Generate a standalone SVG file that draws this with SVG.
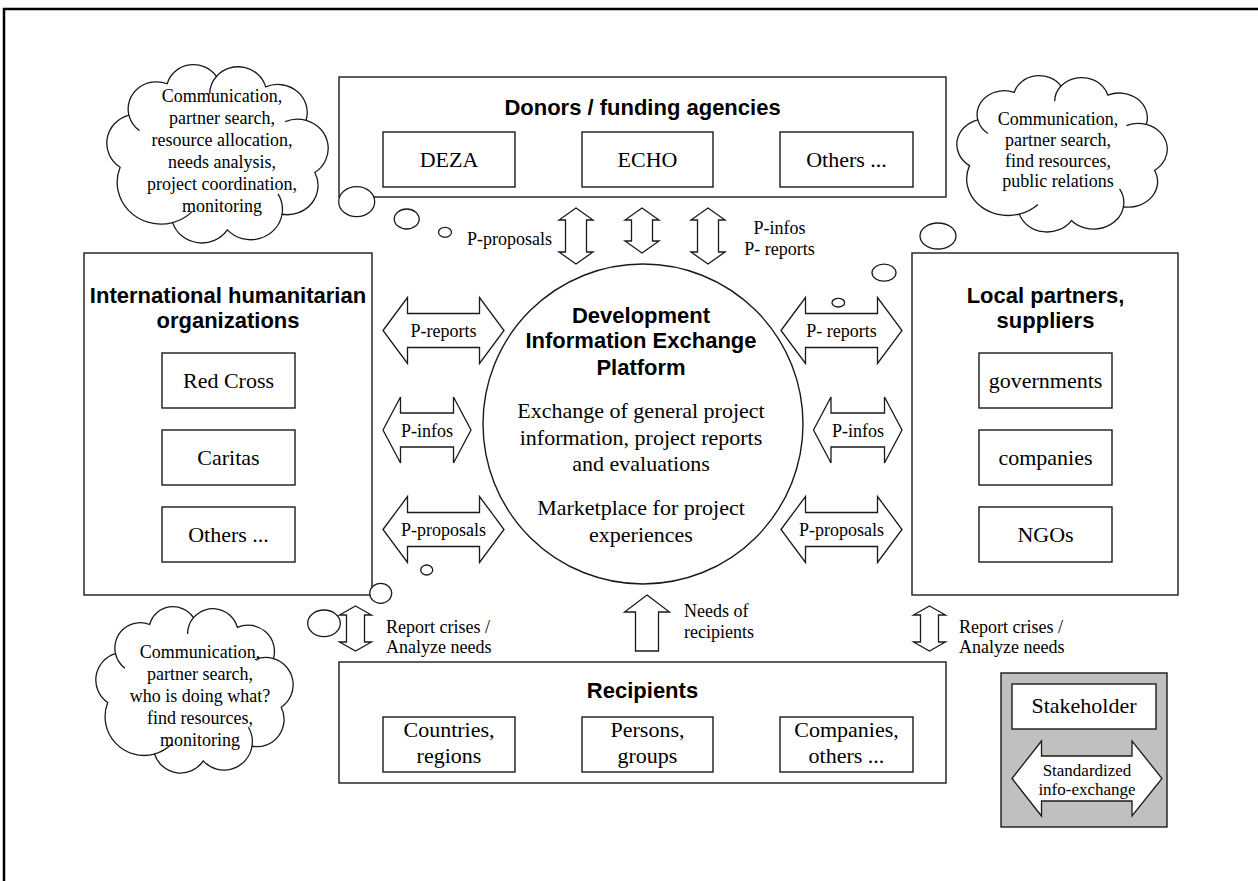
<svg xmlns="http://www.w3.org/2000/svg" xmlns:xlink="http://www.w3.org/1999/xlink" width="1258" height="881" viewBox="0 0 1258 881">
<style>
.box{fill:#fff;stroke:#1a1a1a;stroke-width:1.4}
.arrow{fill:#fff;stroke:#1a1a1a;stroke-width:1.3;stroke-linejoin:miter}
.bub{fill:#fff;stroke:#1a1a1a;stroke-width:1.3}
.cl{fill:#fff;stroke:#1a1a1a;stroke-width:1.3;vector-effect:non-scaling-stroke}
.cli{fill:none;stroke:#1a1a1a;stroke-width:1.3;vector-effect:non-scaling-stroke}
.title{font-family:"Liberation Sans",Arial,sans-serif;font-weight:bold;font-size:22px;fill:#000;text-anchor:middle}
.t22{font-family:"Liberation Serif","Times New Roman",serif;font-size:22px;fill:#000;text-anchor:middle}
.t18{font-family:"Liberation Serif","Times New Roman",serif;font-size:18px;fill:#000;text-anchor:middle}
.t18l{font-family:"Liberation Serif","Times New Roman",serif;font-size:18px;fill:#000;text-anchor:start}
.t17{font-family:"Liberation Serif","Times New Roman",serif;font-size:17px;fill:#000;text-anchor:middle}
</style>
<defs>
<path id="cloudOuter" class="cl" d="M12,95 A28,28 0 0 1 20,45 A26,26 0 0 1 55,15 A25,25 0 0 1 100,8 A26,26 0 0 1 145,18 A27,27 0 0 1 182,50 A28,28 0 0 1 190,100 A28,28 0 0 1 160,140 A29,29 0 0 1 110,155 A28,28 0 0 1 60,148 A40,40 0 0 1 12,95 Z"/>
<path id="cloudInner" class="cli" d="M20,45 A26,26 0 0 0 29.7,59.9 M100,8 A26,26 0 0 0 93.9,24.7 M182,50 A28,28 0 0 0 162.9,51.2 M160,140 A29,29 0 0 0 156.3,120.5 M60,148 A40,40 0 0 0 77.8,137.5"/>
</defs>
<rect width="1258" height="881" fill="#fff"/>
<path d="M4,881 V9 H1258" fill="none" stroke="#000" stroke-width="2.5"/>

<g id="donors">
<rect class="box" x="339" y="77" width="607" height="120"/>
<text class="title" x="642.5" y="115">Donors / funding agencies</text>
<rect class="box" x="383" y="132" width="132" height="55"/>
<text class="t22" x="449" y="167">DEZA</text>
<rect class="box" x="582" y="132" width="131" height="55"/>
<text class="t22" x="647.5" y="167">ECHO</text>
<rect class="box" x="780" y="132" width="133" height="55"/>
<text class="t22" x="846.5" y="167">Others ...</text>
</g>

<g id="intl">
<rect class="box" x="84" y="253" width="288" height="342"/>
<text class="title" x="228" y="303">International humanitarian</text>
<text class="title" x="228" y="328">organizations</text>
<rect class="box" x="162" y="353" width="133" height="55"/>
<text class="t22" x="228.5" y="388">Red Cross</text>
<rect class="box" x="162" y="430" width="133" height="55"/>
<text class="t22" x="228.5" y="465">Caritas</text>
<rect class="box" x="162" y="507" width="133" height="55"/>
<text class="t22" x="228.5" y="542">Others ...</text>
</g>

<g id="local">
<rect class="box" x="912" y="253" width="266" height="342"/>
<text class="title" x="1045.5" y="303">Local partners,</text>
<text class="title" x="1045.5" y="328">suppliers</text>
<rect class="box" x="979" y="353" width="133" height="55"/>
<text class="t22" x="1045.5" y="388">governments</text>
<rect class="box" x="979" y="430" width="133" height="55"/>
<text class="t22" x="1045.5" y="465">companies</text>
<rect class="box" x="979" y="507" width="133" height="55"/>
<text class="t22" x="1045.5" y="542">NGOs</text>
</g>

<g id="recipients">
<rect class="box" x="339" y="662" width="607" height="121"/>
<text class="title" x="642.5" y="698">Recipients</text>
<rect class="box" x="383" y="717" width="132" height="55"/>
<text class="t22" x="449" y="737">Countries,</text>
<text class="t22" x="449" y="763">regions</text>
<rect class="box" x="582" y="717" width="131" height="55"/>
<text class="t22" x="647.5" y="737">Persons,</text>
<text class="t22" x="647.5" y="763">groups</text>
<rect class="box" x="780" y="717" width="133" height="55"/>
<text class="t22" x="846.5" y="737">Companies,</text>
<text class="t22" x="846.5" y="763">others ...</text>
</g>

<g id="platform">
<circle class="box" cx="643" cy="424" r="160"/>
<text class="title" x="641" y="323">Development</text>
<text class="title" x="641" y="348">Information Exchange</text>
<text class="title" x="641" y="375">Platform</text>
<text class="t22" x="641" y="418">Exchange of general project</text>
<text class="t22" x="641" y="445">information, project reports</text>
<text class="t22" x="641" y="471">and evaluations</text>
<text class="t22" x="641" y="515">Marketplace for project</text>
<text class="t22" x="641" y="542">experiences</text>
</g>

<g id="connectors">
<polygon class="arrow" points="576,208 593,220 586.5,220 586.5,252 593,252 576,264 559,252 565.5,252 565.5,220 559,220"/>
<polygon class="arrow" points="642,208 659,220 652.5,220 652.5,241 659,241 642,253 625,241 631.5,241 631.5,220 625,220"/>
<polygon class="arrow" points="708,208 725,220 718.5,220 718.5,252 725,252 708,264 691,252 697.5,252 697.5,220 691,220"/>
<text class="t18" x="509.5" y="245">P-proposals</text>
<text class="t18" x="779.5" y="234">P-infos</text>
<text class="t18" x="779.5" y="255">P- reports</text>

<polygon class="arrow" points="383,330.5 407.5,297.5 407.5,313.5 479.5,313.5 479.5,297.5 504,330.5 479.5,363.5 479.5,347.5 407.5,347.5 407.5,363.5"/>
<text class="t18" x="443.5" y="337">P-reports</text>
<polygon class="arrow" points="383,430 400.5,397 400.5,413 453.5,413 453.5,397 471,430 453.5,463 453.5,447 400.5,447 400.5,463"/>
<text class="t18" x="427" y="436.5">P-infos</text>
<polygon class="arrow" points="383,529.5 407.5,496.5 407.5,512.5 479.5,512.5 479.5,496.5 504,529.5 479.5,562.5 479.5,546.5 407.5,546.5 407.5,562.5"/>
<text class="t18" x="443.5" y="536">P-proposals</text>

<polygon class="arrow" points="781,330.5 805.5,297.5 805.5,313.5 877.5,313.5 877.5,297.5 902,330.5 877.5,363.5 877.5,347.5 805.5,347.5 805.5,363.5"/>
<text class="t18" x="841.5" y="337">P- reports</text>
<polygon class="arrow" points="813.5,430 831,397 831,413 884.5,413 884.5,397 902,430 884.5,463 884.5,447 831,447 831,463"/>
<text class="t18" x="858" y="436.5">P-infos</text>
<polygon class="arrow" points="781,529.5 805.5,496.5 805.5,512.5 877.5,512.5 877.5,496.5 902,529.5 877.5,562.5 877.5,546.5 805.5,546.5 805.5,562.5"/>
<text class="t18" x="841.5" y="536">P-proposals</text>

<polygon class="arrow" points="355.5,606 371.5,615 364.5,615 364.5,642 371.5,642 355.5,651 339.5,642 346.5,642 346.5,615 339.5,615"/>
<text class="t18l" x="386" y="633">Report crises /</text>
<text class="t18l" x="386" y="653">Analyze needs</text>
<polygon class="arrow" points="647,595 669.5,612 658.5,612 658.5,651 635.5,651 635.5,612 624.5,612"/>
<text class="t18l" x="684" y="617">Needs of</text>
<text class="t18l" x="684" y="638">recipients</text>
<polygon class="arrow" points="929.5,606 945.5,615 938.5,615 938.5,642 945.5,642 929.5,651 913.5,642 920.5,642 920.5,615 913.5,615"/>
<text class="t18l" x="959" y="633">Report crises /</text>
<text class="t18l" x="959" y="653">Analyze needs</text>
</g>

<g id="bubbles">
<ellipse class="bub" cx="356.7" cy="201.7" rx="18" ry="15"/>
<ellipse class="bub" cx="406.7" cy="219" rx="12.5" ry="10"/>
<ellipse class="bub" cx="445" cy="232.3" rx="6.5" ry="5"/>
<ellipse class="bub" cx="938" cy="236" rx="18" ry="13"/>
<ellipse class="bub" cx="884" cy="272.7" rx="12" ry="8.5"/>
<ellipse class="bub" cx="838.3" cy="302.7" rx="6.3" ry="4.3"/>
<ellipse class="bub" cx="426.7" cy="570" rx="6" ry="5"/>
<ellipse class="bub" cx="380.7" cy="593.3" rx="11" ry="10"/>
<ellipse class="bub" cx="324" cy="623.3" rx="16.3" ry="13.3"/>
</g>

<g id="cloud-donors">
<g transform="translate(107,68.1) scale(1.094,1.044)">
<use xlink:href="#cloudOuter"/>
<use xlink:href="#cloudInner"/>
</g>
<text class="t18" x="222" y="102">Communication,</text>
<text class="t18" x="222" y="124">partner search,</text>
<text class="t18" x="222" y="146">resource allocation,</text>
<text class="t18" x="222" y="168">needs analysis,</text>
<text class="t18" x="222" y="190">project coordination,</text>
<text class="t18" x="222" y="212">monitoring</text>
</g>

<g id="cloud-local">
<g transform="translate(957,78.7) scale(1.04,0.915)">
<use xlink:href="#cloudOuter"/>
<use xlink:href="#cloudInner"/>
</g>
<text class="t18" x="1058" y="125">Communication,</text>
<text class="t18" x="1058" y="146">partner search,</text>
<text class="t18" x="1058" y="166.5">find resources,</text>
<text class="t18" x="1058" y="187">public relations</text>
</g>

<g id="cloud-intl">
<g transform="translate(96,609.9) scale(0.975,0.974)">
<use xlink:href="#cloudOuter"/>
<use xlink:href="#cloudInner"/>
</g>
<text class="t18" x="200" y="658">Communication,</text>
<text class="t18" x="200" y="680">partner search,</text>
<text class="t18" x="200" y="702">who is doing what?</text>
<text class="t18" x="200" y="724">find resources,</text>
<text class="t18" x="200" y="746">monitoring</text>
</g>

<g id="legend">
<rect x="1001" y="673" width="166" height="154" fill="#c0c0c0" stroke="#1a1a1a" stroke-width="1.4"/>
<rect class="box" x="1012" y="684" width="144" height="45"/>
<text class="t22" x="1084" y="713">Stakeholder</text>
<polygon class="arrow" points="1012,778.5 1041.5,741 1041.5,756 1132,756 1132,741 1162,778.5 1132,816 1132,801 1041.5,801 1041.5,816"/>
<text class="t17" x="1087" y="776">Standardized</text>
<text class="t17" x="1087" y="795">info-exchange</text>
</g>
</svg>
